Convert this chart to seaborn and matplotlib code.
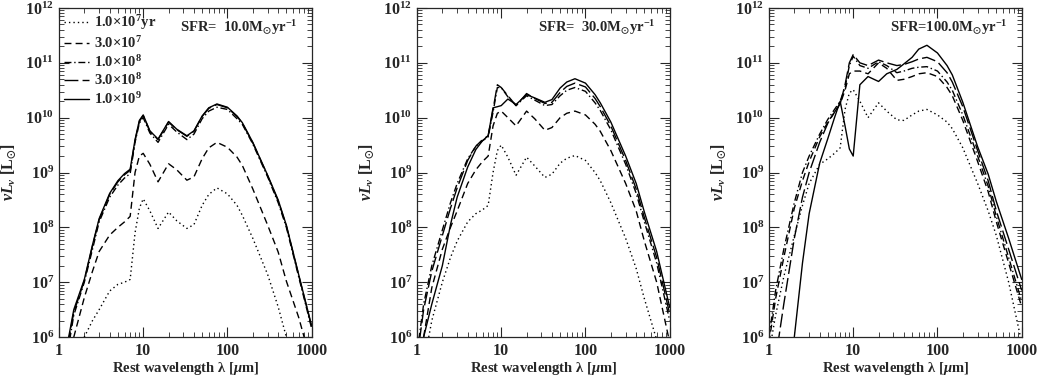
import numpy as np
import pandas as pd
import seaborn as sns
import matplotlib.pyplot as plt
from matplotlib.ticker import LogLocator, NullFormatter

# wavelength grid in micron
lam = [1, 1.2, 1.5, 2, 2.5, 3, 4, 5, 6, 7, 8, 9, 10, 12, 15, 20, 25, 33, 40,
       50, 60, 75, 100, 130, 150, 200, 300, 400, 500, 700, 1000]

ages = ["1.0×10$^7$yr", "3.0×10$^7$", "1.0×10$^8$", "3.0×10$^8$", "1.0×10$^9$"]
sfr_labels = ["SFR=  10.0M$_{\\odot}$yr$^{-1}$", "SFR=  30.0M$_{\\odot}$yr$^{-1}$",
              "SFR=100.0M$_{\\odot}$yr$^{-1}$"]

# log10(nu L_nu / Lsun)
# SFR = 10
p1_1e7 = [3.5, 4.2, 5.0, 6.0, 6.3, 6.5, 6.84, 6.96, 7.0, 7.05, 7.9, 8.35, 8.52, 8.3, 7.98,
          8.28, 8.12, 7.98, 8.05, 8.4, 8.6, 8.72, 8.61, 8.4, 8.22, 7.8, 7.14, 6.55, 6.0, 5.2, 4.0]
p1_3e7 = [4.3, 5.2, 6.0, 6.72, 7.2, 7.56, 7.86, 8.0, 8.1, 8.2, 9.0, 9.3, 9.35, 9.15, 8.83,
          9.16, 9.05, 8.86, 8.92, 9.25, 9.45, 9.55, 9.46, 9.28, 9.13, 8.7, 8.04, 7.55, 7.02, 6.36, 5.5]
p1_1e8 = [4.3, 5.5, 6.4, 7.0, 7.6, 8.1, 8.55, 8.77, 8.9, 8.98, 9.55, 9.9, 10.0, 9.72, 9.55,
          9.88, 9.74, 9.6, 9.7, 9.98, 10.12, 10.19, 10.15, 9.98, 9.88, 9.52, 8.92, 8.45, 8.0, 7.1, 6.15]
p1_3e8 = [4.5, 5.65, 6.45, 7.03, 7.66, 8.14, 8.6, 8.83, 8.96, 9.04, 9.58, 9.93, 10.04, 9.75, 9.6,
          9.92, 9.78, 9.66, 9.75, 10.02, 10.17, 10.24, 10.18, 10.02, 9.9, 9.54, 8.94, 8.48, 8.03, 7.13, 6.18]
p1_1e9 = [4.5, 5.7, 6.5, 7.05, 7.68, 8.16, 8.62, 8.85, 8.98, 9.06, 9.6, 9.95, 10.05, 9.76, 9.61,
          9.93, 9.79, 9.67, 9.76, 10.03, 10.18, 10.25, 10.19, 10.03, 9.91, 9.55, 8.95, 8.5, 8.04, 7.14, 6.2]
# SFR = 30
p2_1e7 = [4.0, 5.5, 6.3, 7.0, 7.45, 7.75, 8.1, 8.25, 8.32, 8.4, 9.0, 9.4, 9.5, 9.28, 8.95,
          9.28, 9.12, 8.91, 8.97, 9.17, 9.26, 9.31, 9.22, 9.0, 8.85, 8.45, 7.8, 7.25, 6.7, 5.95, 4.8]
p2_3e7 = [5.0, 6.0, 6.9, 7.6, 8.0, 8.3, 8.8, 9.05, 9.2, 9.3, 9.85, 10.08, 10.12, 10.0, 9.85,
          10.12, 9.98, 9.77, 9.82, 10.0, 10.08, 10.12, 10.05, 9.88, 9.75, 9.4, 8.8, 8.3, 7.75, 7.0, 5.9]
p2_1e8 = [5.7, 6.6, 7.3, 7.95, 8.45, 8.8, 9.25, 9.48, 9.58, 9.65, 10.1, 10.55, 10.55, 10.38, 10.22,
          10.4, 10.32, 10.22, 10.24, 10.4, 10.5, 10.55, 10.48, 10.27, 10.13, 9.78, 9.15, 8.62, 8.1, 7.35, 6.3]
p2_3e8 = [5.6, 6.5, 7.2, 7.85, 8.35, 8.72, 9.22, 9.48, 9.6, 9.67, 10.15, 10.6, 10.55, 10.4, 10.22,
          10.44, 10.35, 10.26, 10.28, 10.46, 10.57, 10.63, 10.56, 10.35, 10.2, 9.85, 9.22, 8.7, 8.18, 7.45, 6.42]
p2_1e9 = [5.0, 6.0, 6.6, 7.3, 8.05, 8.55, 9.1, 9.42, 9.58, 9.67, 10.18, 10.2, 10.22, 10.34, 10.24,
          10.42, 10.36, 10.28, 10.33, 10.54, 10.65, 10.71, 10.63, 10.42, 10.27, 9.92, 9.3, 8.8, 8.28, 7.56, 6.54]
# SFR = 100
p3_1e7 = [5.7, 6.4, 7.1, 7.85, 8.4, 8.8, 9.15, 9.25, 9.35, 9.45, 10.15, 10.45, 10.51, 10.3, 10.0,
          10.27, 10.12, 9.96, 9.95, 10.05, 10.12, 10.15, 10.05, 9.92, 9.8, 9.45, 8.8, 8.3, 7.85, 7.0, 5.9]
p3_3e7 = [5.9, 6.7, 7.45, 8.35, 8.85, 9.2, 9.65, 9.92, 10.1, 10.25, 10.5, 10.8, 10.85, 10.85, 10.8,
          11.0, 10.9, 10.68, 10.7, 10.75, 10.8, 10.82, 10.75, 10.55, 10.4, 9.95, 9.2, 8.65, 8.1, 7.35, 6.55]
p3_1e8 = [6.0, 6.85, 7.6, 8.45, 9.0, 9.3, 9.7, 9.97, 10.15, 10.3, 10.55, 10.95, 11.12, 10.95, 10.9,
          11.02, 10.95, 10.82, 10.85, 10.9, 10.92, 10.93, 10.85, 10.65, 10.5, 10.05, 9.3, 8.75, 8.2, 7.45, 6.65]
p3_3e8 = [4.8, 5.6, 6.6, 7.8, 8.55, 9.0, 9.55, 9.9, 10.1, 10.25, 10.6, 11.0, 11.15, 11.0, 10.95,
          11.05, 11.0, 10.95, 10.97, 11.02, 11.07, 11.1, 11.02, 10.82, 10.65, 10.2, 9.4, 8.85, 8.3, 7.6, 6.85]
p3_1e9 = [3.0, 4.0, 5.0, 6.0, 7.35, 8.25, 9.17, 9.62, 10.0, 10.3, 9.85, 9.43, 9.3, 10.6, 10.75,
          10.66, 10.8, 10.88, 10.98, 11.1, 11.25, 11.32, 11.18, 10.95, 10.78, 10.28, 9.47, 8.97, 8.47, 7.8, 7.05]

panels = [
    [p1_1e7, p1_3e7, p1_1e8, p1_3e8, p1_1e9],
    [p2_1e7, p2_3e7, p2_1e8, p2_3e8, p2_1e9],
    [p3_1e7, p3_3e7, p3_1e8, p3_3e8, p3_1e9],
]

rows = []
for ip, series in enumerate(panels):
    for age, vals in zip(ages, series):
        for x, v in zip(lam, vals):
            rows.append((ip, age, x, 10.0 ** v))
df = pd.DataFrame(rows, columns=["panel", "age", "lam", "L"])

sns.set_style("ticks")
plt.rcParams["font.family"] = ["Liberation Serif", "DejaVu Serif"]
plt.rcParams["font.weight"] = "bold"
plt.rcParams["mathtext.fontset"] = "custom"
plt.rcParams["mathtext.default"] = "regular"
plt.rcParams["mathtext.rm"] = "Liberation Serif:weight=bold"
plt.rcParams["mathtext.it"] = "Liberation Serif:style=italic:weight=bold"
plt.rcParams["mathtext.bf"] = "Liberation Serif:weight=bold"

dash_map = {ages[0]: (1, 2.2), ages[1]: (5, 3), ages[2]: (5, 2, 1, 2),
            ages[3]: (10, 3), ages[4]: ""}

fig = plt.figure(figsize=(10.38, 3.8), dpi=100)
lefts = [0.0568, 0.4017, 0.7408]
for ip in range(3):
    ax = fig.add_axes([lefts[ip], 0.113, 0.2435, 0.866])
    sub = df[df["panel"] == ip]
    sns.lineplot(data=sub, x="lam", y="L", style="age", dashes=dash_map,
                 style_order=ages, color="black", linewidth=1.0, sort=False,
                 estimator=None, legend=(ip == 0), ax=ax)
    ax.set_xscale("log")
    ax.set_yscale("log")
    ax.set_xlim(1, 1000)
    ax.set_ylim(1e6, 1e12)
    ax.set_xticks([1, 10, 100, 1000])
    ax.set_xticklabels(["1", "10", "100", "1000"])
    ax.xaxis.set_minor_formatter(NullFormatter())
    ax.yaxis.set_major_locator(LogLocator(base=10, numticks=10))
    ax.yaxis.set_minor_locator(LogLocator(base=10, subs=np.arange(2, 10), numticks=20))
    ax.yaxis.set_minor_formatter(NullFormatter())
    ax.tick_params(which="both", direction="in", top=True, right=True, labelsize=11.5)
    ax.tick_params(axis="x", pad=4)
    ax.tick_params(which="major", length=7, width=0.8)
    ax.tick_params(which="minor", length=3.5, width=0.6)
    for lab in ax.get_xticklabels() + ax.get_yticklabels():
        lab.set_fontweight("bold")
    for s in ax.spines.values():
        s.set_linewidth(0.9)
    ax.set_xlabel("Rest wavelength λ [$\\mathit{\\mu}$m]", fontsize=10.5, labelpad=1,
                  fontweight="bold")
    ax.set_ylabel("$\\mathit{\\nu L_{\\nu}}$ [L$_{\\odot}$]", fontsize=11.5, labelpad=5,
                  fontweight="bold")
    ax.text(0.945, 0.94, sfr_labels[ip], transform=ax.transAxes, ha="right",
            va="center", fontsize=10.5, fontweight="bold")
    if ip == 0:
        leg = ax.legend(loc="upper left", frameon=False, handlelength=1.7,
                        handletextpad=0.35, labelspacing=0.2, borderaxespad=0.15,
                        borderpad=0.2, title=None,
                        prop={"size": 10.5, "weight": "bold"})
        for h in leg.get_lines():
            h.set_linewidth(1.0)

fig.savefig("out.png", dpi=100)
